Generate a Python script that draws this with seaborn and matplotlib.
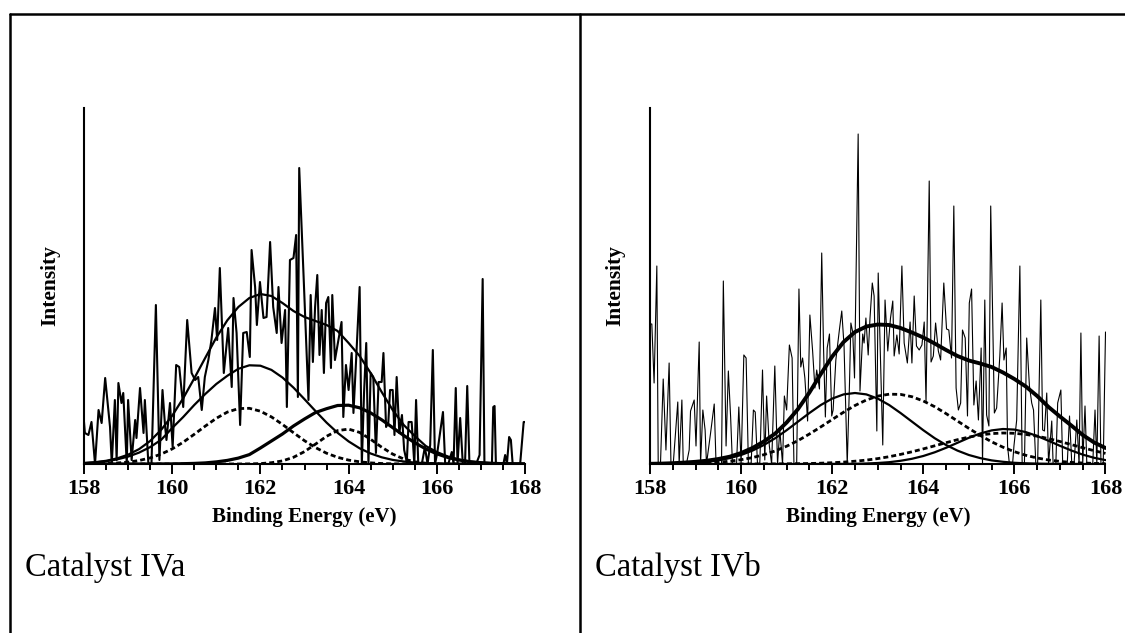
import numpy as np
import matplotlib
matplotlib.use("Agg")
import matplotlib.pyplot as plt
from matplotlib.lines import Line2D
import seaborn as sns

sns.set_style("ticks")
plt.rcParams["font.family"] = ["Liberation Serif", "DejaVu Serif"]
plt.rcParams["text.color"] = "black"
plt.rcParams["axes.labelcolor"] = "black"
plt.rcParams["axes.edgecolor"] = "black"
plt.rcParams["xtick.color"] = "black"
plt.rcParams["ytick.color"] = "black"

# fitted curves, read every 0.25 eV
fit_energy = [158.0, 158.25, 158.5, 158.75, 159.0, 159.25, 159.5, 159.75, 160.0, 160.25,
              160.5, 160.75, 161.0, 161.25, 161.5, 161.75, 162.0, 162.25, 162.5, 162.75,
              163.0, 163.25, 163.5, 163.75, 164.0, 164.25, 164.5, 164.75, 165.0, 165.25,
              165.5, 165.75, 166.0, 166.25, 166.5, 166.75, 167.0, 167.25, 167.5, 167.75, 168.0]

# ---- catalyst IVa ----
a_energy = [158.00, 158.02, 158.10, 158.17, 158.25, 158.33, 158.40, 158.48, 158.59, 158.63,
            158.70, 158.74, 158.78, 158.85, 158.89, 158.97, 159.00, 159.08, 159.16, 159.19,
            159.27, 159.35, 159.38, 159.46, 159.53, 159.63, 159.71, 159.78, 159.84, 159.87,
            159.95, 160.01, 160.09, 160.16, 160.25, 160.34, 160.44, 160.52, 160.59, 160.67,
            160.74, 160.82, 160.89, 160.97, 161.02, 161.08, 161.17, 161.27, 161.35, 161.39,
            161.46, 161.54, 161.61, 161.69, 161.76, 161.80, 161.88, 161.92, 161.99, 162.07,
            162.14, 162.22, 162.29, 162.37, 162.41, 162.48, 162.56, 162.60, 162.67, 162.75,
            162.81, 162.85, 162.88, 162.98, 163.09, 163.14, 163.19, 163.24, 163.29, 163.34,
            163.39, 163.44, 163.49, 163.54, 163.60, 163.63, 163.69, 163.77, 163.84, 163.88,
            163.94, 164.00, 164.07, 164.11, 164.17, 164.25, 164.30, 164.35, 164.40, 164.45,
            164.50, 164.56, 164.62, 164.68, 164.75, 164.79, 164.85, 164.90, 164.94, 165.00,
            165.04, 165.09, 165.15, 165.21, 165.26, 165.32, 165.36, 165.43, 165.49, 165.53,
            165.58, 165.66, 165.73, 165.79, 165.85, 165.91, 165.96, 166.01, 166.14, 166.19,
            166.26, 166.34, 166.38, 166.43, 166.47, 166.53, 166.59, 166.64, 166.69, 166.74,
            166.83, 166.91, 166.97, 167.04, 167.08, 167.17, 167.25, 167.28, 167.31, 167.34,
            167.44, 167.51, 167.55, 167.59, 167.64, 167.68, 167.72, 167.81, 167.89, 167.97,
            168.00]
a_counts = [42, 31, 29, 42, 0, 54, 41, 86, 37, 0,
            64, 4, 81, 61, 71, 0, 64, 4, 44, 26,
            76, 31, 64, 0, 0, 159, 4, 74, 37, 24,
            61, 17, 99, 97, 57, 144, 91, 84, 87, 54,
            87, 104, 124, 156, 124, 196, 91, 136, 77, 166,
            131, 39, 131, 132, 107, 214, 177, 139, 182, 146,
            147, 222, 157, 131, 177, 121, 154, 57, 204, 206,
            229, 67, 296, 187, 64, 169, 102, 157, 189, 109,
            154, 91, 161, 167, 96, 169, 104, 124, 142, 47,
            99, 74, 111, 51, 104, 177, 0, 71, 121, 0,
            91, 87, 11, 82, 82, 111, 37, 41, 74, 74,
            29, 87, 31, 49, 14, 2, 42, 42, 0, 64,
            0, 0, 17, 0, 19, 114, 0, 11, 52, 0,
            0, 12, 0, 76, 0, 46, 0, 0, 78, 0,
            0, 2, 9, 185, 0, 0, 0, 57, 58, 0,
            0, 0, 9, 0, 27, 24, 0, 0, 0, 42,
            42]
a_envelope = [1.0, 1.8, 3.2, 5.6, 9.3, 14.9, 23.0, 34.2, 48.3, 65.8,
              85.6, 106.2, 126.4, 143.7, 157.0, 166.0, 170.0, 168.0, 161.0, 153.0,
              147.0, 143.0, 139.0, 133.0, 121.0, 108.0, 91.0, 72.0, 54.0, 39.0,
              28.0, 18.0, 12.0, 7.5, 4.5, 2.5, 1.4, 0.8, 0.4, 0.2, 0.1]
a_peak1 = [0.9, 1.6, 2.7, 4.6, 7.4, 11.4, 16.9, 24.2, 36.0, 47.0,
           59.0, 70.0, 80.0, 88.2, 95.2, 98.7, 98.3, 94.1, 86.5, 76.4,
           64.8, 52.9, 41.4, 31.2, 22.6, 15.7, 10.5, 6.7, 4.1, 2.5,
           1.4, 0.8, 0.4, 0.2, 0.1, 0, 0, 0, 0, 0, 0]
a_peak1b = [0.1, 0.2, 0.5, 1.0, 1.9, 3.5, 6.1, 9.9, 15.1, 21.8,
            29.7, 37.9, 45.7, 51.9, 55.4, 55.7, 52.8, 47.1, 39.6, 31.3,
            23.3, 16.4, 10.8, 6.7, 3.9, 2.2, 1.1, 0.5, 0.2, 0.1,
            0, 0, 0, 0, 0, 0, 0, 0, 0, 0, 0]
a_peak2 = [0, 0, 0, 0, 0, 0, 0, 0.1, 0.1, 0.3,
           0.6, 1.1, 2.1, 3.6, 5.9, 9.4, 16.0, 23.0, 30.0, 38.0,
           45.0, 51.5, 55.3, 58.5, 58.8, 56.2, 51.1, 44.2, 36.4, 28.5,
           21.3, 15.1, 10.2, 6.5, 4.0, 2.3, 1.3, 0.7, 0.3, 0.2, 0.1]
a_peak2b = [0, 0, 0, 0, 0, 0, 0, 0, 0, 0,
            0, 0, 0, 0, 0, 0.1, 0.4, 1.3, 3.1, 6.7,
            12.4, 19.9, 27.7, 33.4, 34.9, 31.6, 24.7, 16.8, 9.9, 5.0,
            2.2, 0.8, 0.3, 0.1, 0, 0, 0, 0, 0, 0, 0]

# ---- catalyst IVb ----
b_energy = [158.00, 158.04, 158.09, 158.15, 158.18, 158.23, 158.29, 158.35, 158.42, 158.46,
            158.51, 158.61, 158.64, 158.70, 158.73, 158.80, 158.86, 158.89, 158.97, 159.01,
            159.08, 159.11, 159.16, 159.21, 159.24, 159.33, 159.41, 159.45, 159.52, 159.57,
            159.61, 159.67, 159.72, 159.77, 159.81, 159.90, 159.95, 160.00, 160.06, 160.11,
            160.16, 160.22, 160.27, 160.31, 160.36, 160.41, 160.47, 160.52, 160.56, 160.62,
            160.67, 160.74, 160.80, 160.85, 160.91, 160.95, 161.00, 161.06, 161.12, 161.16,
            161.22, 161.27, 161.31, 161.35, 161.40, 161.46, 161.51, 161.57, 161.62, 161.66,
            161.72, 161.77, 161.81, 161.85, 161.89, 161.94, 161.99, 162.02, 162.08, 162.16,
            162.21, 162.26, 162.33, 162.38, 162.41, 162.45, 162.49, 162.57, 162.61, 162.67,
            162.70, 162.74, 162.79, 162.83, 162.88, 162.92, 162.98, 163.01, 163.11, 163.16,
            163.22, 163.28, 163.33, 163.36, 163.42, 163.47, 163.53, 163.58, 163.65, 163.71,
            163.75, 163.80, 163.85, 163.91, 163.97, 164.02, 164.06, 164.13, 164.17, 164.22,
            164.27, 164.33, 164.38, 164.45, 164.51, 164.56, 164.62, 164.67, 164.72, 164.77,
            164.82, 164.86, 164.92, 164.97, 165.01, 165.06, 165.11, 165.16, 165.21, 165.27,
            165.30, 165.35, 165.39, 165.44, 165.48, 165.52, 165.56, 165.61, 165.68, 165.73,
            165.77, 165.82, 165.85, 165.89, 165.96, 165.99, 166.05, 166.12, 166.17, 166.22,
            166.27, 166.33, 166.38, 166.42, 166.47, 166.51, 166.58, 166.62, 166.66, 166.71,
            166.75, 166.82, 166.85, 166.91, 166.95, 167.02, 167.06, 167.11, 167.16, 167.21,
            167.26, 167.31, 167.37, 167.42, 167.46, 167.50, 167.55, 167.59, 167.66, 167.72,
            167.77, 167.81, 167.86, 167.90, 167.95, 168.00]
b_counts = [140, 140, 81, 198, 1, 0, 85, 14, 101, 0,
            0, 62, 0, 64, 0, 0, 14, 53, 64, 18,
            122, 0, 54, 34, 0, 31, 60, 0, 0, 0,
            183, 18, 93, 47, 0, 0, 57, 0, 109, 106,
            0, 0, 54, 52, 0, 0, 94, 4, 68, 18,
            0, 98, 0, 34, 0, 68, 54, 119, 106, 0,
            0, 175, 97, 106, 86, 43, 149, 113, 76, 94,
            75, 211, 116, 47, 116, 130, 48, 54, 104, 135,
            153, 118, 0, 81, 141, 132, 86, 330, 73, 130,
            121, 146, 109, 146, 181, 168, 33, 191, 19, 164,
            113, 146, 163, 108, 129, 110, 198, 121, 101, 142,
            101, 168, 118, 114, 119, 142, 62, 283, 102, 108,
            141, 113, 104, 181, 135, 134, 106, 258, 76, 54,
            61, 134, 126, 48, 161, 175, 59, 83, 44, 116,
            1, 164, 49, 38, 258, 154, 51, 56, 108, 161,
            104, 116, 18, 0, 0, 18, 44, 198, 1, 0,
            126, 78, 61, 54, 0, 0, 164, 34, 33, 71,
            0, 43, 0, 0, 61, 74, 0, 0, 0, 48,
            0, 0, 44, 0, 131, 0, 58, 0, 0, 0,
            54, 0, 128, 0, 0, 132]
b_envelope = [0.2, 0.4, 0.8, 1.4, 2.2, 3.3, 5.0, 7.3, 11.0, 16.0,
              22.5, 30.5, 41.5, 55.0, 71.5, 90.0, 107.5, 122.0, 132.0, 137.5,
              139.5, 139.0, 136.0, 131.5, 126.5, 120.5, 114.0, 108.0, 103.5, 100.5,
              97.0, 91.5, 85.0, 77.5, 68.0, 57.0, 47.5, 38.5, 29.0, 21.5, 16.0]
b_peak1 = [0.1, 0.2, 0.4, 0.7, 1.2, 2.2, 3.6, 5.9, 9.0, 13.4,
           19.0, 25.8, 33.8, 42.4, 51.0, 59.0, 65.4, 69.6, 71.0, 69.6,
           65.4, 59.0, 51.0, 42.4, 33.8, 25.8, 19.0, 13.4, 9.0, 5.9,
           3.6, 2.2, 1.2, 0.7, 0.4, 0.2, 0.1, 0.1, 0, 0, 0]
b_peak1b = [0.1, 0.1, 0.2, 0.4, 0.6, 1.1, 1.8, 2.8, 4.3, 6.4,
            9.3, 13.1, 17.8, 23.4, 30.0, 37.1, 44.5, 51.8, 58.5, 64.0,
            67.9, 69.8, 69.6, 67.3, 63.0, 57.3, 50.4, 43.0, 35.6, 28.6,
            22.2, 16.8, 12.3, 8.7, 6.0, 4.0, 2.6, 1.6, 1.0, 0.6, 0.3]
b_peak2 = [0, 0, 0, 0, 0, 0, 0, 0, 0, 0,
           0, 0, 0, 0, 0, 0, 0.1, 0.1, 0.2, 0.5,
           1.0, 1.8, 3.2, 5.2, 8.0, 11.7, 16.2, 21.2, 26.2, 30.5,
           33.6, 35.0, 34.4, 31.9, 28.0, 23.2, 18.2, 13.5, 9.4, 6.2, 3.9]
b_peak2b = [0, 0, 0, 0, 0, 0, 0, 0, 0, 0.0,
            0.1, 0.1, 0.2, 0.3, 0.5, 0.8, 1.3, 1.9, 2.8, 3.9,
            5.4, 7.3, 9.6, 12.2, 15.1, 18.2, 21.3, 24.3, 26.9, 29.0,
            30.4, 31.0, 30.7, 29.6, 27.8, 25.4, 22.5, 19.4, 16.3, 13.3, 10.6]

x_ticks = [158, 160, 162, 164, 166, 168]
dash = (0, (1.8, 1.1))


def draw_panel(ax, energy, counts, noise_lw, fits):
    sns.lineplot(x=energy, y=counts, ax=ax, color="black", lw=noise_lw,
                 estimator=None, sort=False)
    for vals, ls, lw in fits:
        sns.lineplot(x=fit_energy, y=vals, ax=ax, color="black", lw=lw,
                     linestyle=ls, estimator=None, sort=False)
    ax.set_xlim(158, 168)
    ax.set_ylim(0, 356)
    ax.set_yticks([])
    ax.set_xticks(x_ticks)
    ax.set_xticklabels([str(t) for t in x_ticks], fontsize=16, fontweight="bold")
    ax.set_xticks(np.arange(158, 168.01, 0.5), minor=True)
    ax.tick_params(axis="x", which="major", direction="out", length=7.2, width=1.4, pad=3.5)
    ax.tick_params(axis="x", which="minor", direction="out", length=4.3, width=1.4)
    for side in ["top", "right"]:
        ax.spines[side].set_visible(False)
    for side in ["left", "bottom"]:
        ax.spines[side].set_linewidth(1.5)
    ax.set_xlabel("Binding Energy (eV)", fontsize=15, fontweight="bold", labelpad=6)
    ax.set_ylabel("Intensity", fontsize=15.5, fontweight="bold")
    ax.yaxis.set_label_coords(-24 / 441, 0.5)


fig = plt.figure(figsize=(11.25, 6.33), dpi=100)
ax_a = fig.add_axes([84 / 1125, 1 - 464 / 633, 441 / 1125, 356 / 633])
ax_b = fig.add_axes([650 / 1125, 1 - 464 / 633, 455.5 / 1125, 356 / 633])

draw_panel(ax_a, a_energy, a_counts, 1.5,
           [(a_envelope, "-", 1.6), (a_peak1, "-", 1.6), (a_peak1b, dash, 2.0),
            (a_peak2, "-", 2.3), (a_peak2b, dash, 2.0)])
draw_panel(ax_b, b_energy, b_counts, 0.8,
           [(b_envelope, "-", 2.8), (b_peak1, "-", 1.6), (b_peak1b, dash, 2.0),
            (b_peak2, "-", 1.6), (b_peak2b, dash, 2.0)])

# table-like frame around the two panels
frame_kw = dict(transform=fig.transFigure, color="black", lw=1.8)
fig.add_artist(Line2D([10 / 1125, 1], [1 - 14 / 633, 1 - 14 / 633], **frame_kw))
fig.add_artist(Line2D([10 / 1125, 10 / 1125], [0, 1 - 14 / 633], **frame_kw))
fig.add_artist(Line2D([580 / 1125, 580 / 1125], [0, 1 - 14 / 633], **frame_kw))

fig.text(25 / 1125, 1 - 576 / 633, "Catalyst IVa", fontsize=23.5, va="baseline")
fig.text(595 / 1125, 1 - 576 / 633, "Catalyst IVb", fontsize=23.5, va="baseline")

fig.savefig("out.png", dpi=100)
